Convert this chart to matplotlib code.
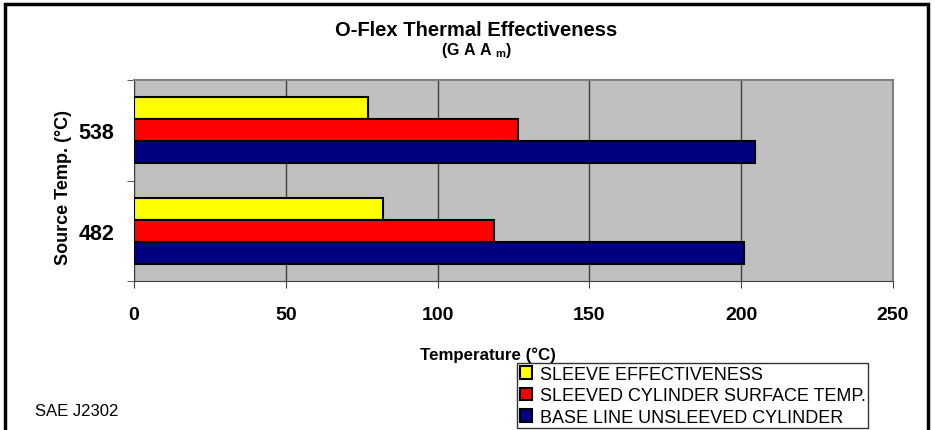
import matplotlib.pyplot as plt
import matplotlib.patches as mpatches
import numpy as np

plt.rcParams['font.family'] = ['Liberation Sans', 'DejaVu Sans']
plt.rcParams['mathtext.fontset'] = 'custom'
plt.rcParams['mathtext.rm'] = 'Liberation Sans'
plt.rcParams['mathtext.bf'] = 'Liberation Sans:bold'

# data
sources = ['482', '538']
sleeve_eff = [82, 77]
sleeved_surf = [118.5, 126.5]
base_line = [201, 204.5]
series_names = ['SLEEVE EFFECTIVENESS', 'SLEEVED CYLINDER SURFACE TEMP.',
                'BASE LINE UNSLEEVED CYLINDER']
series_colors = ['#ffff00', '#ff0000', '#000080']
x_ticks = [0, 50, 100, 150, 200, 250]

fig = plt.figure(figsize=(9.35, 4.31), dpi=100)
ax = fig.add_axes([134 / 935, 1 - 282 / 431, (893 - 134) / 935, (282 - 81) / 431])
ax.set_facecolor('#c0c0c0')

y = np.arange(len(sources))
h = 0.22
handles = []
for vals, off, col, name in zip([sleeve_eff, sleeved_surf, base_line], [h, 0, -h],
                                series_colors, series_names):
    b = ax.barh(y + off, vals, height=h, color=col, edgecolor='black',
                linewidth=1.5, label=name, zorder=3)
    handles.append(b)

ax.set_xlim(0, 250)
ax.set_ylim(-0.5, 1.5)
ax.set_xticks(x_ticks)
ax.set_xticklabels([str(v) for v in x_ticks], fontsize=14, fontweight='bold')
ax.tick_params(axis='x', direction='out', length=5, pad=13, color='#404040')
ax.set_yticks(y)
ax.set_yticklabels(sources, fontsize=15.5, fontweight='bold')
ax.tick_params(axis='y', which='major', length=0, pad=14)
ax.set_yticks([-0.5, 0.5, 1.5], minor=True)
ax.tick_params(axis='y', which='minor', length=5, direction='out', color='#404040')
ax.xaxis.grid(True, color='#404040', linewidth=1)
ax.set_axisbelow(True)
for s in ['top', 'right']:
    ax.spines[s].set_color('#808080')
    ax.spines[s].set_linewidth(1.5)
for s in ['left', 'bottom']:
    ax.spines[s].set_color('#404040')

fig.text(63 / 935, 1 - 188 / 431, 'Source Temp. (°C)', fontsize=13,
         fontweight='bold', ha='center', va='center', rotation=90)
fig.text(488 / 935, 1 - 355 / 431, 'Temperature (°C)', fontsize=12.2,
         fontweight='bold', ha='center', va='center')

fig.text(476 / 935, 1 - 30 / 431, 'O-Flex Thermal Effectiveness', fontsize=14.5,
         fontweight='bold', ha='center', va='center')
fig.text(477 / 935, 1 - 51 / 431, r'(G A A $_{\mathbf{m}}$)', fontsize=11.5,
         fontweight='bold', ha='center', va='center')

fig.text(35 / 935, 1 - 412 / 431, 'SAE J2302', fontsize=12, ha='left', va='center')

leg = fig.legend(handles=handles, loc='upper left',
                 bbox_to_anchor=(517 / 935, 1 - 364 / 431), fontsize=13,
                 frameon=True, fancybox=False, edgecolor='black',
                 handlelength=0.7, handleheight=0.7, handletextpad=0.4,
                 labelspacing=0.25, borderpad=0.15, borderaxespad=0)
leg.get_frame().set_linewidth(1)

fig.patches.append(mpatches.Rectangle((5 / 935, -0.05), 923 / 935, 1.05 - 5 / 431,
                                      transform=fig.transFigure, fill=False,
                                      edgecolor='black', linewidth=2.5))

fig.savefig('out.png', dpi=100)
